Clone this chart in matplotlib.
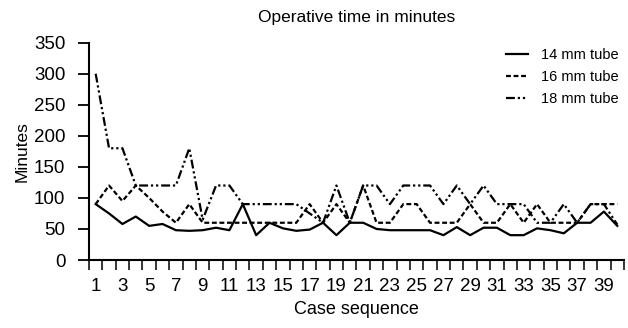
import matplotlib
matplotlib.use('Agg')
import matplotlib.pyplot as plt
import numpy as np

plt.rcParams['font.family'] = ['Liberation Sans', 'DejaVu Sans']

cases = list(range(1, 41))
tube_14 = [90, 75, 58, 70, 55, 58, 48, 47, 48, 52, 48, 90, 40, 60, 51, 47, 49, 60, 40, 60,
           60, 50, 48, 48, 48, 48, 40, 53, 40, 52, 52, 40, 40, 51, 48, 43, 60, 60, 78, 55]
tube_16 = [90, 120, 95, 120, 100, 78, 60, 90, 60, 60, 60, 60, 60, 60, 60, 60, 90, 60, 90, 60,
           120, 60, 60, 90, 90, 60, 60, 60, 90, 60, 60, 90, 60, 90, 60, 60, 60, 90, 90, 90]
tube_18 = [300, 180, 180, 120, 120, 120, 120, 180, 65, 120, 120, 90, 90, 90, 90, 90, 75, 60, 120, 60,
           120, 120, 90, 120, 120, 120, 90, 120, 90, 120, 90, 90, 90, 60, 60, 90, 60, 90, 90, 57]
labels = ['14 mm tube', '16 mm tube', '18 mm tube']

fig = plt.figure(figsize=(6.28, 3.28), dpi=100)
ax = fig.add_axes([0.1417, 0.2073, 0.8519, 0.6625])

ax.plot(cases, tube_14, color='black', lw=1.6, label=labels[0])
ax.plot(cases, tube_16, color='black', lw=1.6, dashes=(2.2, 1.2), label=labels[1])
ax.plot(cases, tube_18, color='black', lw=1.6, dashes=(4, 1.3, 1, 1.3, 1, 1.3), label=labels[2])

ax.set_xlim(0.5, 40.5)
ax.set_ylim(0, 350)
ax.set_yticks(np.arange(0, 351, 50))
ax.set_xticks(cases[::2])
ax.set_xticks(np.arange(0.5, 41, 1), minor=True)
ax.tick_params(axis='x', which='major', length=0, pad=13, labelsize=13.5)
ax.tick_params(axis='x', which='minor', length=7.5, width=1.1, direction='out')
ax.tick_params(axis='y', length=8, width=1.3, labelsize=13.5, pad=9)

for s in ['top', 'right']:
    ax.spines[s].set_visible(False)
for s in ['left', 'bottom']:
    ax.spines[s].set_linewidth(1.5)

ax.set_title('Operative time in minutes', fontsize=12.5, pad=15)
ax.set_xlabel('Case sequence', fontsize=13, labelpad=4)
ax.set_ylabel('Minutes', fontsize=12.5, labelpad=3)

ax.legend(loc='upper right', bbox_to_anchor=(1.015, 1.035), frameon=False, fontsize=10.5,
          handlelength=1.5, handletextpad=0.9, labelspacing=0.55)

fig.savefig('out.png', dpi=100)
